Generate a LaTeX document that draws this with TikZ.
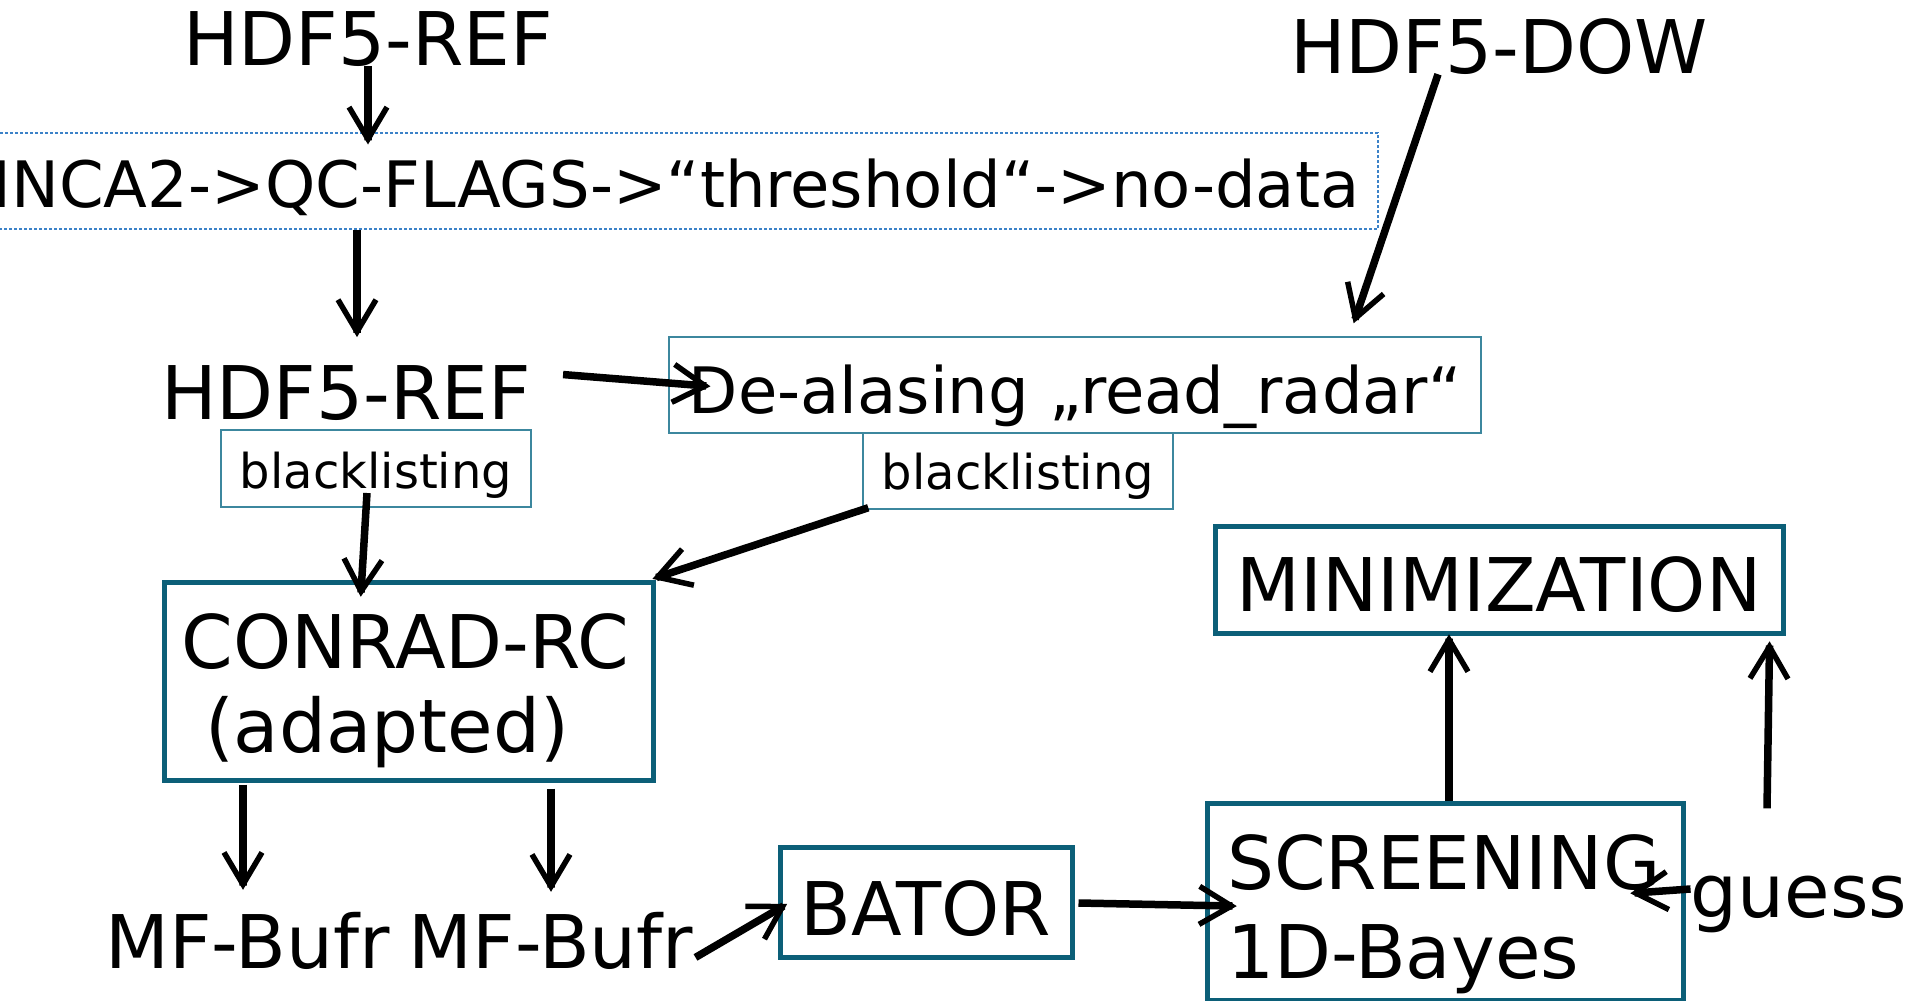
\documentclass[tikz,border=0pt]{standalone}
\usepackage{fontspec}
\setmainfont{DejaVu Sans}
\usetikzlibrary{arrows.meta,calc}
\definecolor{tealdark}{RGB}{12,95,120}
\definecolor{tealthin}{RGB}{60,135,158}
\definecolor{dotblue}{RGB}{60,130,200}
\begin{document}
\begin{tikzpicture}[x=1pt,y=-1pt,
  big/.style={font=\fontsize{74}{86}\selectfont, inner sep=0pt},
  thick box/.style={draw=tealdark, line width=5pt, inner sep=0pt},
  thin box/.style={draw=tealthin, line width=1.5pt, inner sep=0pt},
  dot box/.style={draw=dotblue, line width=1.5pt, dash pattern=on 3pt off 2pt, inner sep=0pt},
  arr/.style={line width=7.5pt, -{Straight Barb[length=32pt,width=38pt,line width=5.5pt,sep=-8pt] Butt Cap}},
]
\fill[white] (0,0) rectangle (1917,1001);
\useasboundingbox (0,0) rectangle (1917,1001);
\clip (0,0) rectangle (1917,1001);

\node[big, anchor=base] (ref1) at (368,65) {HDF5-REF};
\node[dot box, minimum width=1404pt, minimum height=96pt, text height=52pt, text depth=0pt, font=\fontsize{64}{70}\selectfont] (inca) at (676,181) {INCA2->QC-FLAGS->“threshold“->no-data};
\node[big, anchor=base] (dow) at (1499,73) {HDF5-DOW};
\node[big, anchor=base] (ref2) at (346,419) {HDF5-REF};
\node[thin box, minimum width=812pt, minimum height=96pt, text height=56pt, text depth=0pt, font=\fontsize{64}{70}\selectfont] (deal) at (1075,385) {De-alasing „read\_radar“};
\node[thin box, minimum width=310pt, minimum height=77pt, text height=39pt, text depth=0pt, font=\fontsize{48}{56}\selectfont] (bl1) at (376,468.5) {blacklisting};
\node[thin box, minimum width=310pt, minimum height=76pt, text height=36pt, text depth=0pt, font=\fontsize{48}{56}\selectfont] (bl2) at (1018,471) {blacklisting};
\node[thick box, font=\fontsize{74}{84}\selectfont, minimum width=489pt, minimum height=198pt, text width=454pt, align=left, text height=54pt, text depth=80pt] (conrad) at (408.5,681) {CONRAD-RC\\\hspace*{23.5pt}(adapted)};
\node[big, anchor=base] (mf1) at (247.5,968) {MF-Bufr};
\node[big, anchor=base] (mf2) at (551,968) {MF-Bufr};
\node[thick box, big, minimum width=292pt, minimum height=110pt, text height=66pt, text depth=0pt] (bator) at (926,902) {BATOR};
\node[thick box, font=\fontsize{74}{89}\selectfont, minimum width=476pt, minimum height=197pt, text width=436pt, align=left, text height=54pt, text depth=79pt] (scr) at (1445,901.5) {SCREENING\\1D-Bayes};
\node[thick box, big, minimum width=568pt, minimum height=107pt, text height=63pt, text depth=0pt] (mini) at (1499,579.5) {MINIMIZATION};
\node[big, anchor=base] (guess) at (1799,917) {guess};

\draw[arr] (ref1.south) -- ($(inca.north -| ref1.south)+(0,8)$);
\draw[arr] ($(inca.south -| ref2.north)+(11,0)$) -- ($(ref2.north)+(11,-32)$);
\draw[arr] ($(ref2.east)+(32,-18)$) -- ($(deal.west)+(38,1)$);
\draw[arr] ($(dow.south)+(-61,0)$) -- ($(deal.north)+(280,-17)$);
\draw[arr] ($(bl1.center)+(-9,24.5)$) -- ($(conrad.north)+(-47.5,13)$);
\draw[arr] ($(bl2.south west)+(6,-2)$) -- ($(conrad.north east)+(1,-2)$);
\draw[arr] ($(conrad.south)+(-165.5,2)$) -- ($(mf1.north)+(-4.5,-26)$);
\draw[arr] ($(conrad.south)+(142.5,6)$) -- ($(mf2.north)+(0,-24)$);
\draw[arr] ($(mf2.east)+(2,17)$) -- ($(bator.west)+(6,4)$);
\draw[arr] ($(bator.east)+(4,1)$) -- ($(scr.west)+(28,4.5)$);
\draw[arr] ($(scr.north)+(4,0)$) -- ($(mini.south)+(-50,3)$);
\draw[arr] ($(guess.north)+(-32,-67)$) -- ($(mini.south east)+(-16,10)$);
\draw[arr] ($(guess.west)+(0,-15)$) -- ($(scr.east)+(-51,-8.5)$);
\end{tikzpicture}
\end{document}
